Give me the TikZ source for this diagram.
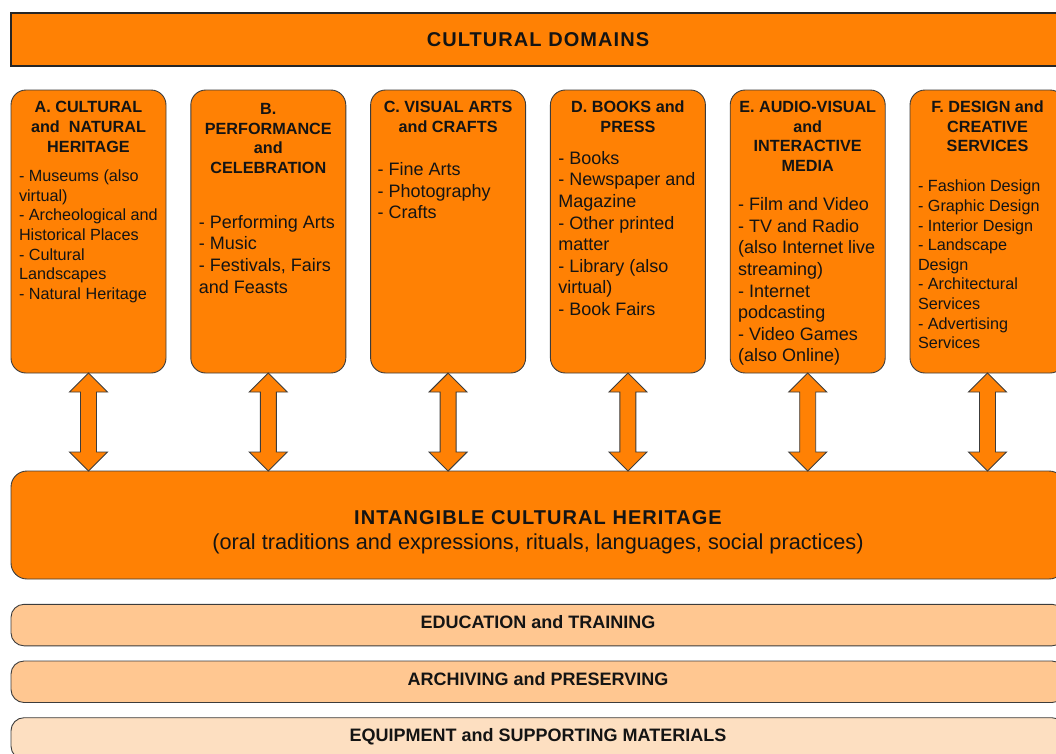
\documentclass[tikz,border=0pt]{standalone}
\usepackage{fontspec}
\setmainfont{Liberation Sans}
\newfontfamily\trackedfont[LetterSpace=5.3]{Liberation Sans}
\usetikzlibrary{calc}

\definecolor{domorange}{RGB}{255,129,4}
\definecolor{bandmid}{RGB}{255,199,145}
\definecolor{bandlight}{RGB}{253,223,193}
\definecolor{edge}{RGB}{60,60,60}

\tikzset{
  every node/.style={inner sep=0pt, outer sep=0pt, text=black!92},
  titlebox/.style={draw=black!85, line width=1.2pt, fill=domorange,
    minimum width=1054pt, minimum height=53pt, anchor=north west,
    font=\trackedfont\bfseries\fontsize{20}{24}\selectfont},
  domainbox/.style={draw=edge, line width=0.9pt, fill=domorange,
    rounded corners=15pt, minimum width=155pt, minimum height=283pt,
    anchor=north west},
  boxhead/.style={anchor=north, align=center,
    font=\fontsize{16.2}{19.8}\selectfont\bfseries},
  itemsbig/.style={anchor=north west, align=left,
    font=\fontsize{18}{21.6}\selectfont},
  itemssmall/.style={anchor=north west, align=left,
    font=\fontsize{16.2}{19.6}\selectfont},
  ichbox/.style={draw=edge, line width=0.9pt, fill=domorange,
    rounded corners=16pt, minimum width=1054pt, minimum height=108pt,
    anchor=north west},
  band/.style={draw=edge, line width=0.9pt, rounded corners=13pt,
    minimum width=1054pt, minimum height=41.5pt, anchor=north west,
    text height=13pt, text depth=6.5pt,
    font=\fontsize{18}{22}\selectfont\bfseries},
  updown/.style={draw=edge, line width=0.9pt, fill=domorange, line join=miter},
}

\begin{document}
\begin{tikzpicture}[x=1pt,y=-1pt]
\useasboundingbox (0,0) rectangle (1056,753);
\clip (0,0) rectangle (1056,753);

% heading bar
\node[titlebox] (domains) at (11,13) {CULTURAL DOMAINS};

% the six domain boxes
\node[domainbox] (A) at (11,90) {};
\node[domainbox] (B) at (190.8,90) {};
\node[domainbox] (C) at (370.6,90) {};
\node[domainbox] (D) at (550.4,90) {};
\node[domainbox] (E) at (730.2,90) {};
\node[domainbox] (F) at (910,90) {};

% box headings
\node[boxhead] (Ahead) at ($(A.north)+(0,9.1)$) {\strut A. CULTURAL\\and~ NATURAL\\HERITAGE};
\node[boxhead] (Bhead) at ($(B.north)+(0,10.4)$) {\strut B.\\PERFORMANCE\\and\\CELEBRATION};
\node[boxhead] (Chead) at ($(C.north)+(0,8.4)$) {\strut C. VISUAL ARTS\\and CRAFTS};
\node[boxhead] (Dhead) at ($(D.north)+(0,8.4)$) {\strut D. BOOKS and\\PRESS};
\node[boxhead] (Ehead) at ($(E.north)+(0,8.4)$) {\strut E. AUDIO-VISUAL\\and\\INTERACTIVE\\MEDIA};
\node[boxhead] (Fhead) at ($(F.north)+(0,8.4)$) {\strut F. DESIGN and\\CREATIVE\\SERVICES};

% box contents
\node[itemssmall] (Aitems) at ($(A.north west)+(8,77.9)$)
  {\strut - Museums (also\\virtual)\\- Archeological and\\Historical Places\\- Cultural\\Landscapes\\- Natural Heritage};
\node[itemsbig] (Bitems) at ($(B.north west)+(8,123.2)$)
  {\strut - Performing Arts\\- Music\\- Festivals, Fairs\\and Feasts};
\node[itemsbig] (Citems) at ($(C.north west)+(7,70.6)$)
  {\strut - Fine Arts\\- Photography\\- Crafts};
\node[itemsbig] (Ditems) at ($(D.north west)+(8,59.2)$)
  {\strut - Books\\- Newspaper and\\Magazine\\- Other printed\\matter\\- Library (also\\virtual)\\- Book Fairs};
\node[itemsbig] (Eitems) at ($(E.north west)+(8,105.6)$)
  {\strut - Film and Video\\- TV and Radio\\(also Internet live\\streaming)\\- Internet\\podcasting\\- Video Games\\(also Online)};
\node[itemssmall] (Fitems) at ($(F.north west)+(8,88.1)$)
  {\strut - Fashion Design\\- Graphic Design\\- Interior Design\\- Landscape\\Design\\- Architectural\\Services\\- Advertising\\Services};

% intangible heritage block
\node[ichbox] (ich) at (11,471) {};
\node[anchor=base, font=\trackedfont\bfseries\fontsize{20}{24}\selectfont] (ichtitle)
  at ($(ich.north)+(0,53.3)$) {INTANGIBLE CULTURAL HERITAGE};
\node[anchor=base, font=\fontsize{21.7}{26}\selectfont] (ichsub)
  at ($(ich.north)+(0,78.3)$) {(oral traditions and expressions, rituals, languages, social practices)};

% two-way arrows between each domain and the intangible block
\foreach \n in {A,B,C,D,E,F}{
  \coordinate (t\n) at (\n.south);
  \coordinate (b\n) at (\n.south |- ich.north);
  \draw[updown] (t\n) -- ++(19,19) -- ++(-11,0) -- ($(b\n)+(8,-19)$) -- ++(11,0)
    -- (b\n) -- ++(-19,-19) -- ++(11,0) -- ($(t\n)+(-8,19)$) -- ++(-11,0) -- cycle;
}

% supporting layers
\node[band, fill=bandmid] (edu) at (11,604.3) {EDUCATION and TRAINING};
\node[band, fill=bandmid] (arch) at (11,661) {ARCHIVING and PRESERVING};
\node[band, fill=bandlight] (equip) at (11,717.7) {EQUIPMENT and SUPPORTING MATERIALS};
\end{tikzpicture}
\end{document}
